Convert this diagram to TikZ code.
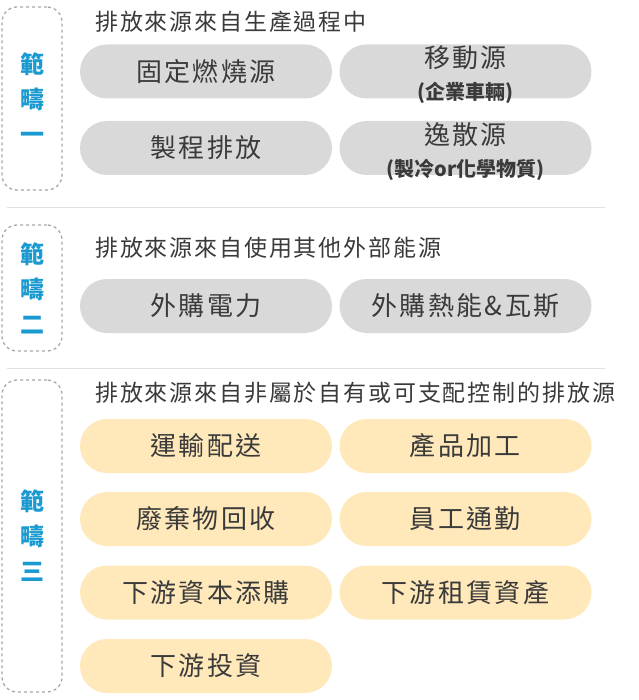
\documentclass[tikz,border=0pt]{standalone}
\usepackage{fontspec}
\setmainfont{Noto Sans CJK TC}
\newfontfamily\pillfont[LetterSpace=9]{Noto Sans CJK TC}
\newfontfamily\titlefont[LetterSpace=8]{Noto Sans CJK TC}
\newcommand\subfont{\normalfont\fontsize{20}{22}\selectfont\bfseries}
\usetikzlibrary{calc}
\definecolor{pillgray}{HTML}{D9D9D9}
\definecolor{pillpeach}{HTML}{FFE9BB}
\definecolor{scopeblue}{HTML}{1A9AD0}
\definecolor{txtdark}{HTML}{3A3A3A}
\definecolor{boxgray}{HTML}{A8A8A8}
\definecolor{rulegray}{HTML}{E2E2E2}

\begin{document}
\begin{tikzpicture}[x=1pt,y=-1pt,
 pill/.style={rounded corners=27pt, minimum width=252pt, minimum height=54pt, inner sep=0pt, text=txtdark, font=\pillfont\fontsize{26}{30}\selectfont},
 graypill/.style={pill, fill=pillgray},
 peachpill/.style={pill, fill=pillpeach},
 twoline/.style={text height=10pt, text depth=17pt},
 scopebox/.style={draw=boxgray, dashed, line width=1.3pt, rounded corners=15pt, minimum width=60pt, inner sep=0pt, text=scopeblue, font=\fontsize{24}{35}\selectfont\bfseries, align=center},
 title/.style={anchor=west, inner sep=0pt, text=txtdark, font=\titlefont\fontsize{23}{26}\selectfont}]
\useasboundingbox (0,0) rectangle (638,700);

% scope boxes
\node[scopebox, minimum height=183pt] (s1) at (32,98.5) {範\\疇\\一};
\node[scopebox, minimum height=126pt] (s2) at (32,288) {範\\疇\\二};
\node[scopebox, minimum height=312pt] (s3) at (32,536) {範\\疇\\三};

% separators
\draw[rulegray, line width=1pt] (7,208) -- (605,208);
\draw[rulegray, line width=1pt] (7,368) -- (605,368);

% titles
\node[title] (t1) at (95,22) {排放來源來自生產過程中};
\node[title] (t2) at (95,248) {排放來源來自使用其他外部能源};
\node[title] (t3) at (95,393) {排放來源來自非屬於自有或可支配控制的排放源};

% scope 1
\node[graypill] (p11) at (206,71.5) {固定燃燒源};
\node[graypill, twoline] (p12) at (465.5,71.5) {\begin{tabular}[t]{@{}c@{}}移動源\\[1.6pt]{\subfont (企業車輛)}\end{tabular}};
\node[graypill] (p13) at (206,148) {製程排放};
\node[graypill, twoline] (p14) at (465.5,148) {\begin{tabular}[t]{@{}c@{}}逸散源\\[1.6pt]{\subfont (製冷or化學物質)}\end{tabular}};

% scope 2
\node[graypill] (p21) at (206,306) {外購電力};
\node[graypill] (p22) at (465.5,306) {外購熱能\&瓦斯};

% scope 3
\foreach \n/\x/\y/\t in {1/206/446/運輸配送, 2/465.5/446/產品加工, 3/206/519/廢棄物回收, 4/465.5/519/員工通勤, 5/206/592.5/下游資本添購, 6/465.5/592.5/下游租賃資產, 7/206/666/下游投資}
 \node[peachpill] (p3\n) at (\x,\y) {\t};
\end{tikzpicture}
\end{document}
